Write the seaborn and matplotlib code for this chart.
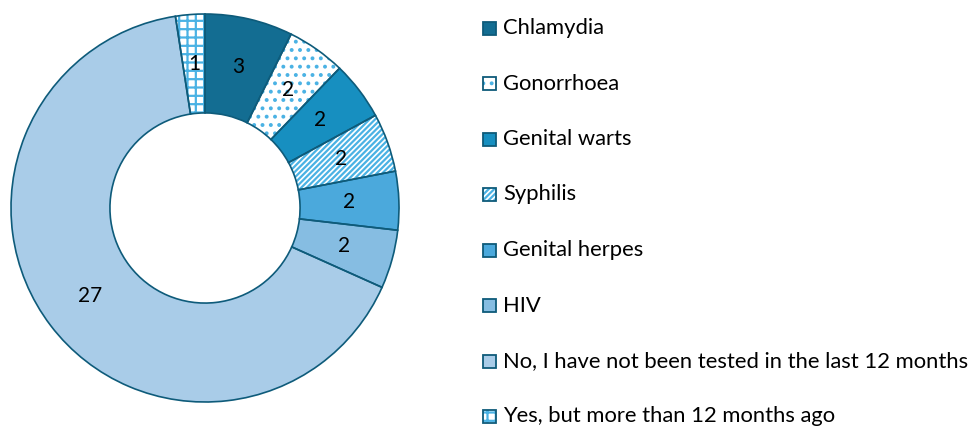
import matplotlib
matplotlib.use("Agg")
import matplotlib.pyplot as plt
from matplotlib.patches import Rectangle
import seaborn as sns

categories = ["Chlamydia", "Gonorrhoea", "Genital warts", "Syphilis",
              "Genital herpes", "HIV",
              "No, I have not been tested in the last 12 months",
              "Yes, but more than 12 months ago"]
counts = [3, 2, 2, 2, 2, 2, 27, 1]

fills = ["#136d92", "#ffffff", "#178fc0", "#ffffff", "#4ba9dc", "#86bde2", "#a9cce8", "#ffffff"]
hatches = [None, "..", None, "//////", None, None, None, "++"]
hatch_col = "#4ab2e4"
edge = "#0e5b7a"

sns.set_theme(style="white")
plt.rcParams["font.family"] = ["Lato", "DejaVu Sans"]
plt.rcParams["hatch.linewidth"] = 1.6

fig = plt.figure(figsize=(9.75, 4.29), dpi=100)
ax = fig.add_axes([10 / 975, 27 / 429, 390 / 975, 388 / 429])

# hatched fills, hatch colour carried by the edge colour
wedges, _ = ax.pie(counts, startangle=90, counterclock=False, colors=fills,
                   wedgeprops=dict(width=0.51, linewidth=0))
for w, h in zip(wedges, hatches):
    if h:
        w.set_hatch(h)
        w.set_edgecolor(hatch_col)
# outlines and value labels
_, texts = ax.pie(counts, startangle=90, counterclock=False, labels=[str(c) for c in counts],
                  labeldistance=0.745,
                  wedgeprops=dict(width=0.51, facecolor="none", edgecolor=edge, linewidth=1.2),
                  textprops=dict(fontsize=15, color="black", ha="center", va="center"))
ax.set_xlim(-1, 1)
ax.set_ylim(-1, 1)
ax.set_aspect("equal")
ax.axis("off")

# legend column
for i, (lab, f, h) in enumerate(zip(categories, fills, hatches)):
    yc = 1 - (28 + 55.5 * i) / 429
    r = Rectangle((483 / 975, yc - 6.5 / 429), 13 / 975, 13 / 429, transform=fig.transFigure,
                  facecolor=f, edgecolor=edge, linewidth=1.3, hatch=h)
    if h:
        r._hatch_color = matplotlib.colors.to_rgba(hatch_col)
    fig.add_artist(r)
    fig.text(503 / 975, yc, lab, fontsize=15.8, va="center", ha="left", color="black")

fig.savefig("out.png", dpi=100)
